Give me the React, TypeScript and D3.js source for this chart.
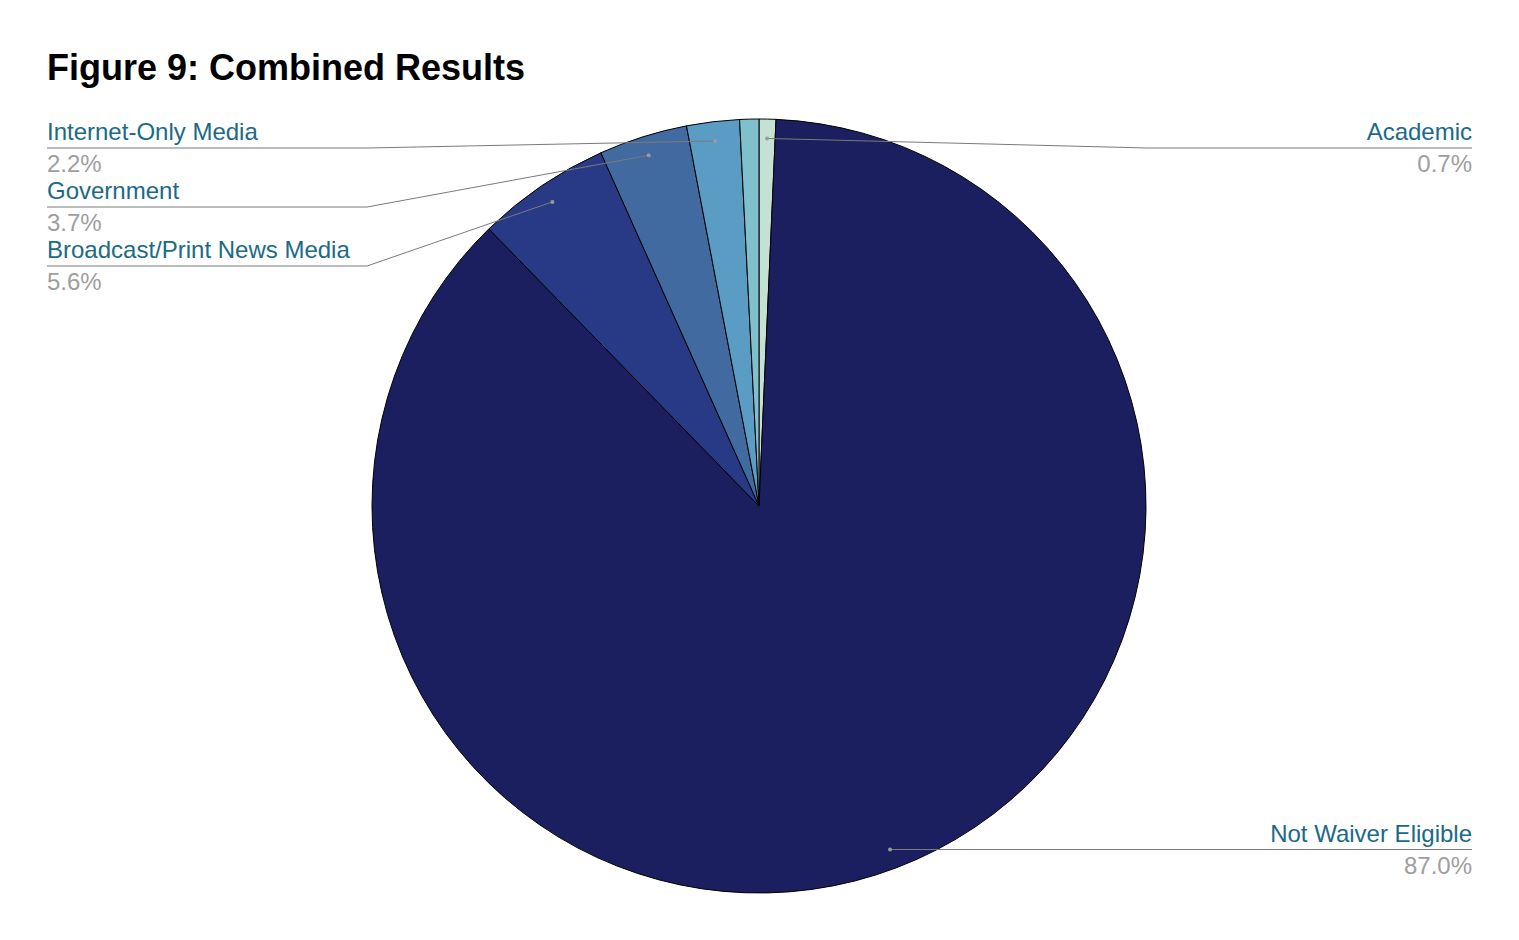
import React from "react";
import * as d3 from "d3";

const categories = [
  "Academic",
  "Not Waiver Eligible",
  "Broadcast/Print News Media",
  "Government",
  "Internet-Only Media",
  "Other",
];
const values = [0.7, 87.0, 5.6, 3.7, 2.2, 0.8];
const percentLabels = ["0.7%", "87.0%", "5.6%", "3.7%", "2.2%", ""];
const colors = ["#c4e1d3", "#1b1f5f", "#283a85", "#416aa0", "#5b9cc4", "#80bfcc"];
const title = "Figure 9: Combined Results";

const W = 1519;
const H = 940;
const cx = 759;
const cy = 506;
const R = 387;
const dotR = R * 0.95;
const leftX = 47;
const rightX = 1472;
const leftBend = 367;
const rightBend = 1147;
const firstLineY = 148;
const rowGap = 59;
const FONT = "'Liberation Sans', Arial, Helvetica, sans-serif";

export default function App() {
  const data = categories.map((c, i) => ({ name: c, value: values[i], pct: percentLabels[i], color: colors[i] }));
  const pie = d3.pie<any>().value((d: any) => d.value).sort(null).startAngle(0).endAngle(2 * Math.PI);
  const arcs = pie(data);
  const arcGen = d3.arc<any>().innerRadius(0).outerRadius(R);

  const labeled = arcs
    .filter((a) => a.data.pct !== "")
    .map((a) => {
      const mid = (a.startAngle + a.endAngle) / 2;
      const dx = cx + dotR * Math.sin(mid);
      const dy = cy - dotR * Math.cos(mid);
      return { a, mid, dx, dy, side: Math.sin(mid) >= 0 ? "right" : "left" };
    });

  const layout: any[] = [];
  (["left", "right"] as const).forEach((side) => {
    const items = labeled.filter((l) => l.side === side).sort((p, q) => p.dy - q.dy);
    let prev = -Infinity;
    items.forEach((l, i) => {
      const ly = Math.max(l.dy, firstLineY + i * rowGap, prev + rowGap);
      prev = ly;
      layout.push({ ...l, ly });
    });
  });

  return (
    <div style={{ position: "absolute", left: 0, top: 0 }}>
      <svg width={W} height={H} style={{ display: "block", background: "#fff" }}>
        <rect x={0} y={0} width={W} height={H} fill="#fff" />
        <text x={47} y={80} fontFamily={FONT} fontWeight="bold" fontSize={36} fill="#000">
          {title}
        </text>
        <g transform={`translate(${cx},${cy})`}>
          {arcs.map((a, i) => (
            <path key={i} d={arcGen(a) as string} fill={a.data.color} stroke="#000" strokeWidth={1} />
          ))}
        </g>
        {layout.map((l, i) => {
          const isLeft = l.side === "left";
          const textX = isLeft ? leftX : rightX;
          const bend = isLeft ? leftBend : rightBend;
          const pts = isLeft
            ? [[leftX, l.ly], [bend, l.ly], [l.dx, l.dy]]
            : [[rightX, l.ly], [Math.max(bend, l.dx), l.ly], [l.dx, l.dy]];
          const line = d3.line()(pts as any);
          return (
            <g key={i}>
              <path d={line as string} fill="none" stroke="#7a7a7a" strokeWidth={1} />
              <circle cx={l.dx} cy={l.dy} r={2} fill="#9a9a9a" />
              <text
                x={textX}
                y={l.ly - 8}
                textAnchor={isLeft ? "start" : "end"}
                fontFamily={FONT}
                fontSize={24}
                fill="#1b6a86"
              >
                {l.a.data.name}
              </text>
              <text
                x={textX}
                y={l.ly + 24}
                textAnchor={isLeft ? "start" : "end"}
                fontFamily={FONT}
                fontSize={24}
                fill="#9e9e9e"
              >
                {l.a.data.pct}
              </text>
            </g>
          );
        })}
      </svg>
    </div>
  );
}
